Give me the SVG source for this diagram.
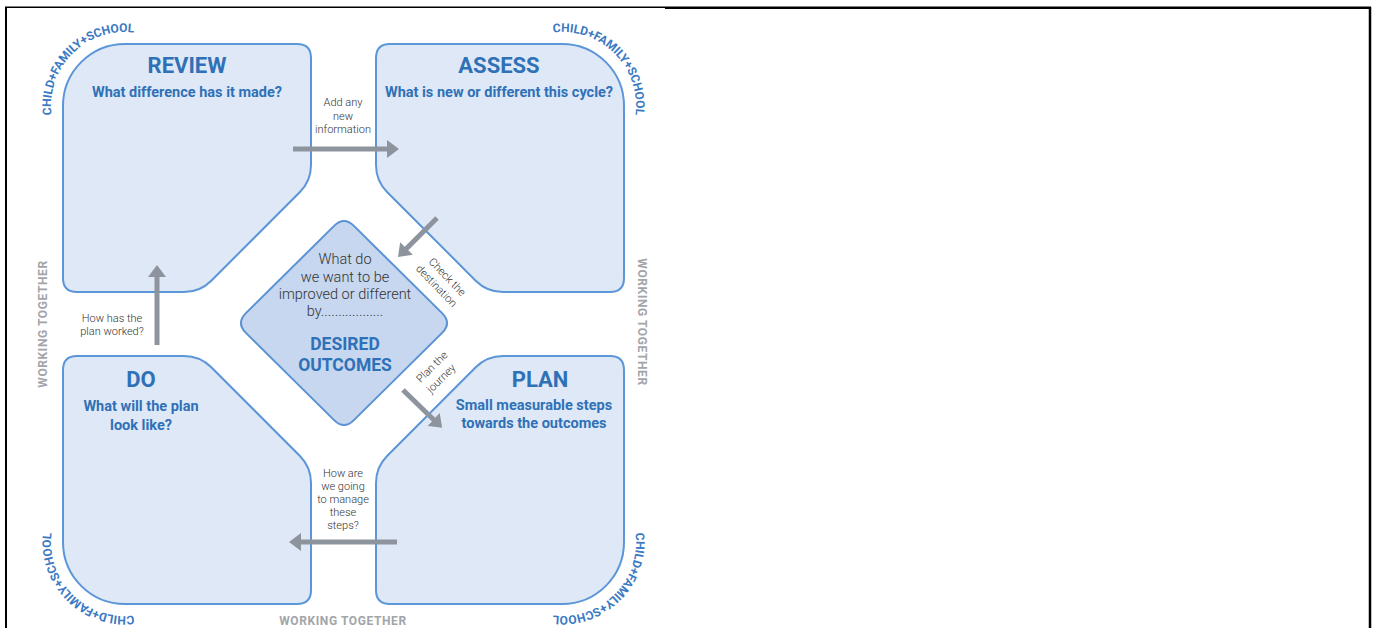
<svg xmlns="http://www.w3.org/2000/svg" width="1375" height="628" viewBox="0 0 1375 628">
<style>
.box{fill:#dfe8f6;stroke:#5b96d8;stroke-width:2}
.dia{fill:#c6d7ef;stroke:#5b92d4;stroke-width:2}
.title{font-family:Roboto,"Liberation Sans",sans-serif;font-weight:700;font-size:22px;fill:#2f71b7;text-anchor:middle}
.sub{font-family:Roboto,"Liberation Sans",sans-serif;font-weight:700;font-size:14.5px;fill:#2f71b7;text-anchor:middle}
.q{font-family:Roboto,"Liberation Sans",sans-serif;font-weight:300;font-size:14.5px;fill:#333;text-anchor:middle}
.lbl{font-family:Roboto,"Liberation Sans",sans-serif;font-weight:300;font-size:11px;fill:#333;text-anchor:middle}
.wt{font-family:Roboto,"Liberation Sans",sans-serif;font-weight:700;font-size:12px;fill:#a2a5a9;text-anchor:middle;letter-spacing:0.6px}
.cfs{font-family:Roboto,"Liberation Sans",sans-serif;font-weight:700;font-size:12px;fill:#3a79c4;text-anchor:middle}
.arr{fill:none;stroke:#8e949d;stroke-width:5}
.frame{stroke:#000;fill:none}
</style>
<defs>
<marker id="ah" viewBox="0 0 12 18" refX="1" refY="9" markerUnits="userSpaceOnUse" markerWidth="12" markerHeight="18" orient="auto">
<path d="M0,0 L12,9 L0,18 Z" fill="#8e949d"/>
</marker>
<path id="cTL" d="M 53.5,125.2 A 74 74 0 0 1 144.2,34.5"/>
<path id="cTR" d="M 542.8,34.5 A 74 74 0 0 1 633.5,125.2"/>
<path id="cBL" d="M 144.2,613.5 A 74 74 0 0 1 53.5,522.8"/>
<path id="cBR" d="M 633.5,522.8 A 74 74 0 0 1 542.8,613.5"/>
</defs>
<rect width="1375" height="628" fill="#fff"/>
<g id="frame">
<line class="frame" x1="6" y1="7" x2="6" y2="628" stroke-width="2"/>
<line class="frame" x1="5" y1="7.3" x2="665" y2="7.3" stroke-width="1.6"/>
<line class="frame" x1="665" y1="7.8" x2="1371" y2="7.8" stroke-width="2.5"/>
<line class="frame" x1="1370" y1="7" x2="1370" y2="628" stroke-width="2.5"/>
</g>
<g id="review">
<path class="box" d="M 63,106 A 62,62 0 0 1 125,44 L 297,44 Q 311,44 311,58 L 311,165 Q 311,181 299.7,192.3 L 211.3,280.7 Q 200,292 184,292 L 77,292 Q 63,292 63,278 Z"/>
<text class="title" x="187" y="73">REVIEW</text>
<text class="sub" x="187" y="97">What difference has it made?</text>
</g>
<g id="assess">
<path class="box" d="M 624,106 A 62,62 0 0 0 562,44 L 390,44 Q 376,44 376,58 L 376,165 Q 376,181 387.3,192.3 L 475.7,280.7 Q 487,292 503,292 L 610,292 Q 624,292 624,278 Z"/>
<text class="title" x="499" y="73">ASSESS</text>
<text class="sub" x="499" y="97">What is new or different this cycle?</text>
</g>
<g id="do">
<path class="box" d="M 63,542 A 62,62 0 0 0 125,604 L 297,604 Q 311,604 311,590 L 311,483 Q 311,467 299.7,455.7 L 211.3,367.3 Q 200,356 184,356 L 77,356 Q 63,356 63,370 Z"/>
<text class="title" x="141" y="387">DO</text>
<text class="sub" x="141" y="411">What will the plan</text>
<text class="sub" x="141" y="430">look like?</text>
</g>
<g id="plan">
<path class="box" d="M 624,542 A 62,62 0 0 1 562,604 L 390,604 Q 376,604 376,590 L 376,483 Q 376,467 387.3,455.7 L 475.7,367.3 Q 487,356 503,356 L 610,356 Q 624,356 624,370 Z"/>
<text class="title" x="540" y="387">PLAN</text>
<text class="sub" x="534" y="410">Small measurable steps</text>
<text class="sub" x="534" y="428">towards the outcomes</text>
</g>
<g id="desired-outcomes">
<path class="dia" d="M 334.1,225.9 Q 344,216 353.9,225.9 L 442.1,313.1 Q 452,323 442.1,332.9 L 353.9,420.1 Q 344,430 334.1,420.1 L 245.9,332.9 Q 236,323 245.9,313.1 Z"/>
<text class="q" x="345" y="264">What do</text>
<text class="q" x="345" y="282">we want to be</text>
<text class="q" x="345" y="299">improved or different</text>
<text class="q" x="345" y="316">by..................</text>
<text class="title" style="font-size:17.5px" x="345" y="350">DESIRED</text>
<text class="title" style="font-size:17.5px" x="345" y="371">OUTCOMES</text>
</g>
<g id="connectors">
<line class="arr" x1="293" y1="149" x2="388" y2="149" marker-end="url(#ah)"/>
<line class="arr" x1="437" y1="218" x2="405.8" y2="249.2" marker-end="url(#ah)"/>
<line class="arr" x1="403" y1="390" x2="434.2" y2="420.2" marker-end="url(#ah)"/>
<line class="arr" x1="397" y1="542" x2="300" y2="542" marker-end="url(#ah)"/>
<line class="arr" x1="157" y1="345" x2="157" y2="276" marker-end="url(#ah)"/>
</g>
<g id="labels">
<text class="lbl" x="343" y="106">Add any</text>
<text class="lbl" x="343" y="119.5">new</text>
<text class="lbl" x="343" y="133">information</text>
<text class="lbl" transform="translate(444.6,279.5) rotate(46)">Check the</text>
<text class="lbl" transform="translate(433.8,288.6) rotate(46)">destination</text>
<text class="lbl" transform="translate(434.5,369.5) rotate(-45)">Plan the</text>
<text class="lbl" transform="translate(443.6,381.1) rotate(-45)">journey</text>
<text class="lbl" x="343" y="477">How are</text>
<text class="lbl" x="343" y="490">we going</text>
<text class="lbl" x="343" y="503">to manage</text>
<text class="lbl" x="343" y="516">these</text>
<text class="lbl" x="343" y="529">steps?</text>
<text class="lbl" x="112" y="322">How has the</text>
<text class="lbl" x="112" y="335">plan worked?</text>
</g>
<g id="side-texts">
<text class="wt" transform="translate(47,324) rotate(-90)">WORKING TOGETHER</text>
<text class="wt" transform="translate(638,322) rotate(90)">WORKING TOGETHER</text>
<text class="wt" x="343" y="625">WORKING TOGETHER</text>
<text class="cfs"><textPath href="#cTL" startOffset="50%">CHILD+FAMILY+SCHOOL</textPath></text>
<text class="cfs"><textPath href="#cTR" startOffset="50%">CHILD+FAMILY+SCHOOL</textPath></text>
<text class="cfs"><textPath href="#cBL" startOffset="50%">CHILD+FAMILY+SCHOOL</textPath></text>
<text class="cfs"><textPath href="#cBR" startOffset="50%">CHILD+FAMILY+SCHOOL</textPath></text>
</g>
</svg>
